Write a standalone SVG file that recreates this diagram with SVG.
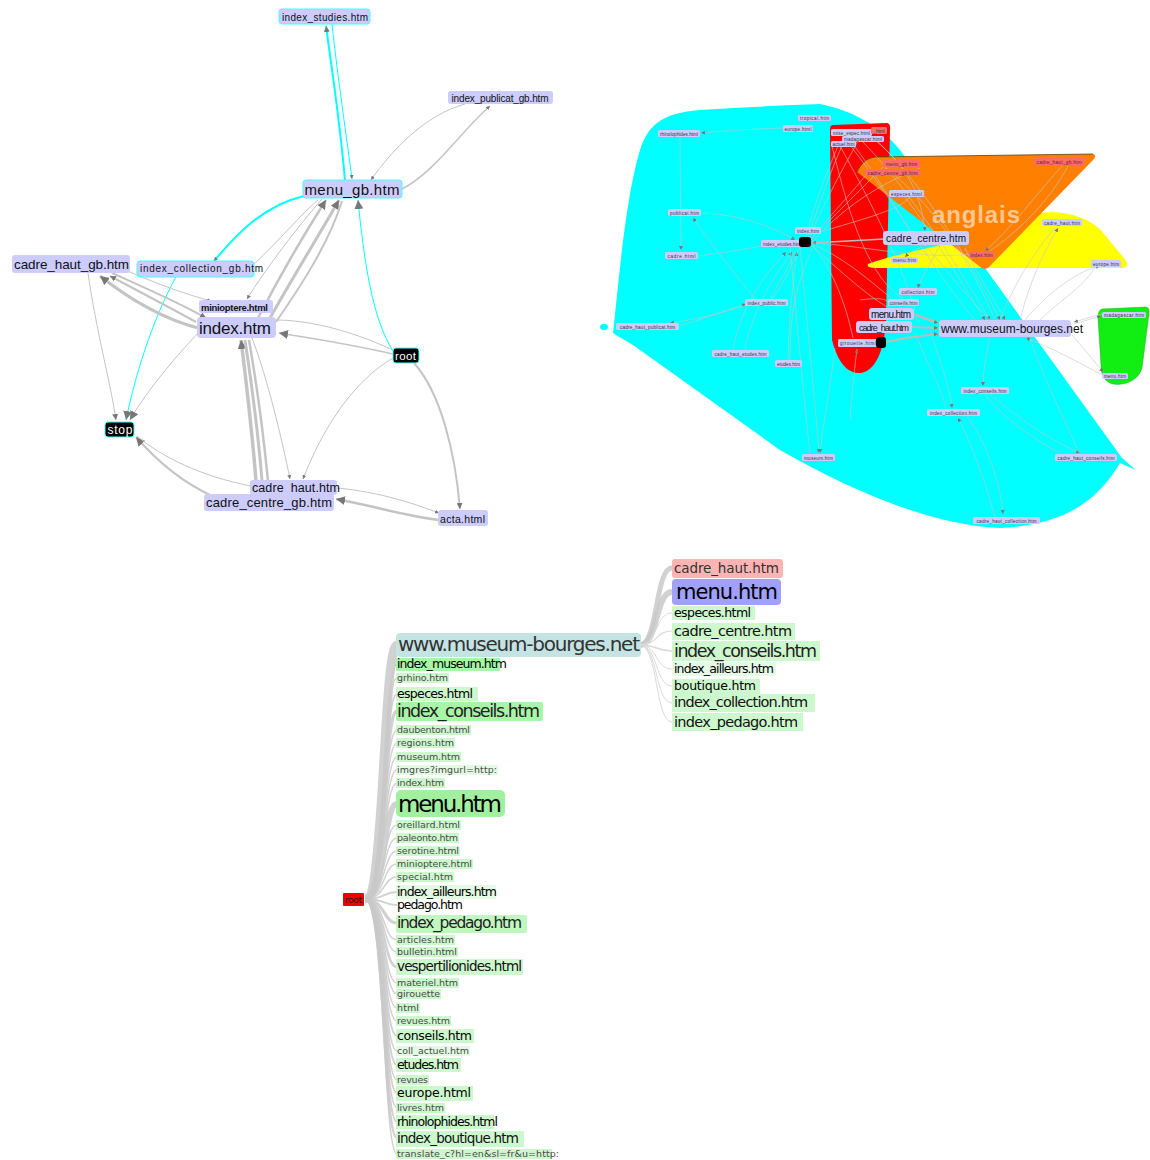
<svg xmlns="http://www.w3.org/2000/svg" width="1150" height="1160" viewBox="0 0 1150 1160">
<defs>
<style>
.n{fill:#ccccff}
.nb{fill:#ccccff;stroke:#40ffff;stroke-width:1}
.bk{fill:#000;stroke:#40ffff;stroke-width:1}
.t{font-family:"Liberation Sans",Arial,sans-serif;fill:#111;text-anchor:middle}
.tw{font-family:"Liberation Sans",Arial,sans-serif;fill:#fff;text-anchor:middle}
.e{fill:none;stroke:#c4c4c4}
.ec{fill:none;stroke:#00ffff}
.s{fill:none;stroke:#c6c6c6;stroke-width:0.6}
.sm{font-family:"Liberation Sans",Arial,sans-serif;font-size:4.6px;fill:#333;text-anchor:middle}
.rn{fill:#ff6a6a}
.tr{fill:none;stroke:#c9c9c9;stroke-opacity:0.85}
.tf{fill:none;stroke:#dadada}
.lt{font-family:"DejaVu Sans",Verdana,sans-serif}
.g1{fill:#a8f5a8}
.g2{fill:#cdf7cd}
.sx{font-size:9.5px;fill:#4a4a4a}
.md{font-size:12.5px;fill:#000}
</style>
<marker id="a" viewBox="0 0 10 10" refX="10" refY="5" markerWidth="9" markerHeight="9" markerUnits="userSpaceOnUse" orient="auto"><path d="M0,0L10,5L0,10z" fill="#777"/></marker>
<marker id="b" viewBox="0 0 10 10" refX="10" refY="5" markerWidth="6" markerHeight="6" markerUnits="userSpaceOnUse" orient="auto"><path d="M0,0L10,5L0,10z" fill="#777"/></marker>
<marker id="c" viewBox="0 0 10 10" refX="10" refY="5" markerWidth="4" markerHeight="4" markerUnits="userSpaceOnUse" orient="auto"><path d="M0,0L10,5L0,10z" fill="#777"/></marker>
</defs>
<rect width="1150" height="1160" fill="#fff"/>

<!-- ============ TOP-LEFT GRAPH ============ -->
<g id="tl-edges">
<path class="ec" stroke-width="2" d="M345,181 C341,130 332,70 326,26" marker-end="url(#b)"/>
<path class="ec" d="M332,24 C338,80 347,140 352,179" marker-end="url(#c)"/>
<path class="e" stroke-width="1.5" d="M402,189 C435,172 462,130 490,106" marker-end="url(#c)"/>
<path class="e" d="M465,104 C425,115 392,150 371,180" marker-end="url(#c)"/>
<path class="ec" stroke-width="2" d="M304,196 C262,206 236,235 214,261" marker-end="url(#c)"/>
<path class="ec" d="M176,277 C152,320 134,380 126,420" marker-end="url(#a)"/>
<path class="ec" d="M393,351 C372,318 364,260 358,200" marker-end="url(#a)"/>
<path class="e" stroke-width="2.5" d="M258,318 C282,272 308,228 326,200" marker-end="url(#a)"/>
<path class="e" stroke-width="3" d="M270,318 C296,272 322,230 339,200" marker-end="url(#a)"/>
<path class="e" stroke-width="2" d="M276,322 C305,280 330,240 342,201"/>
<path class="e" d="M254,264 C280,240 300,215 318,200"/>
<path class="e" d="M322,199 C295,230 265,270 247,299" marker-end="url(#c)"/>
<path class="e" d="M88,273 C96,330 110,380 116,420" marker-end="url(#b)"/>
<path class="e" stroke-width="3" d="M198,328 C160,318 128,298 100,276" marker-end="url(#a)"/>
<path class="e" stroke-width="2" d="M196,322 C165,305 140,292 110,276" marker-end="url(#b)"/>
<path class="e" stroke-width="2" d="M112,273 C150,290 180,303 206,318" marker-end="url(#b)"/>
<path class="e" d="M125,270 C160,285 185,294 211,301" marker-end="url(#c)"/>
<path class="e" d="M200,331 C172,360 142,398 130,420" marker-end="url(#a)"/>
<path class="e" stroke-width="1.5" d="M393,354 C350,344 310,338 279,333" marker-end="url(#a)"/>
<path class="e" d="M393,350 C345,328 305,320 275,320"/>
<path class="e" d="M393,358 C352,382 322,430 303,479" marker-end="url(#c)"/>
<path class="e" stroke-width="2" d="M414,363 C440,392 455,450 460,509" marker-end="url(#b)"/>
<path class="e" d="M337,488 C380,492 415,504 439,513" marker-end="url(#c)"/>
<path class="e" stroke-width="2.5" d="M439,520 C400,515 370,505 336,499" marker-end="url(#a)"/>
<path class="e" stroke-width="2" d="M212,496 C182,482 156,460 136,437" marker-end="url(#a)"/>
<path class="e" d="M251,486 C200,476 162,457 137,436"/>
<path class="e" stroke-width="3.5" d="M256,481 C252,430 246,380 241,340" marker-end="url(#a)"/>
<path class="e" stroke-width="3" d="M262,481 C258,430 251,380 245,340"/>
<path class="e" stroke-width="2.5" d="M268,481 C263,430 256,380 249,340"/>
<path class="e" d="M252,338 C268,380 282,440 290,479" marker-end="url(#c)"/>
</g>

<g id="tl-index_studies"><rect class="nb" x="279" y="9" width="91" height="15" rx="3"/><text class="t" x="325" y="21" font-size="10" textLength="86">index_studies.htm</text></g>
<g id="tl-index_publicat_gb"><rect class="n" x="448" y="91" width="105" height="13" rx="3"/><text class="t" x="500" y="102" font-size="10" textLength="97">index_publicat_gb.htm</text></g>
<g id="tl-menu_gb"><rect class="nb" x="303" y="180" width="99" height="18" rx="3"/><text class="t" x="352" y="195" font-size="15" textLength="95">menu_gb.htm</text></g>
<g id="tl-cadre_haut_gb"><rect class="n" x="12" y="255" width="118" height="18" rx="3"/><text class="t" x="71.5" y="269" font-size="13.5" textLength="115">cadre_haut_gb.htm</text></g>
<g id="tl-index_collection_gb"><rect class="nb" x="137" y="261" width="117" height="16" rx="3"/><text class="t" x="201.5" y="272" font-size="10" textLength="123">index_collection_gb.htm</text></g>
<g id="tl-minioptere"><rect class="n" x="199" y="300" width="74" height="13" rx="3"/><text class="t" x="234.5" y="311" font-size="9.5" font-weight="bold" textLength="67">minioptere.html</text></g>
<g id="tl-index"><rect class="n" x="197" y="317" width="79" height="21" rx="4"/><text class="t" x="235" y="334" font-size="17" textLength="72">index.htm</text></g>
<g id="tl-root"><rect class="bk" x="393" y="348" width="26" height="15" rx="3"/><text class="tw" x="405.5" y="360" font-size="11.5" textLength="21">root</text></g>
<g id="tl-stop"><rect class="bk" x="105" y="422" width="29" height="15" rx="3"/><text class="tw" x="120" y="434" font-size="12" textLength="25">stop</text></g>
<g id="tl-cadre_haut"><rect class="n" x="250" y="480" width="87" height="15" rx="3"/><text class="t" x="296" y="492" font-size="12.5" textLength="88">cadre_haut.htm</text></g>
<g id="tl-cadre_centre_gb"><rect class="n" x="204" y="494" width="130" height="17" rx="3"/><text class="t" x="269" y="507" font-size="13" textLength="126">cadre_centre_gb.htm</text></g>
<g id="tl-acta"><rect class="n" x="438" y="510" width="50" height="16" rx="3"/><text class="t" x="462.5" y="523" font-size="10.5" textLength="45">acta.html</text></g>

<!-- ============ TOP-RIGHT GRAPH ============ -->
<g id="tr-hulls">
<path fill="#00ffff" d="M613,333 C618,290 625,200 640,150 C648,125 662,113 700,110 C750,107 790,105 820,104 C850,110 880,125 900,150 L1122,458 L1136,470 L1120,463 C1095,505 1060,525 1000,528 C930,525 850,490 780,450 L640,350 C630,342 620,338 613,333 Z"/>
<ellipse fill="#00ffff" cx="604" cy="327" rx="4" ry="3"/>
<path fill="#ff0000" d="M833,125 L887,123 Q891,124 890,130 L886,320 C884,360 870,374 858,373 C843,372 836,355 832,340 L830,130 Q830,125 833,125 Z"/>
<path fill="#ffff00" d="M868,264 C890,256 920,250 950,243 L1040,213 C1060,210 1090,215 1105,235 C1115,248 1125,258 1127,263 Q1128,268 1120,268 L876,268 Q866,268 868,264 Z"/>
<path fill="#ff8000" d="M857,172 C860,165 866,158 875,157 L1093,154 Q1097,155 1094,159 L990,266 Q985,272 979,266 Z"/>
<path fill="none" stroke="#5a4020" stroke-width="0.8" d="M857,172 C860,165 866,158 875,157 L1093,154"/>
<text x="932" y="223" font-family="Liberation Sans,Arial,sans-serif" font-size="24" font-weight="bold" fill="#ffc890" textLength="88">anglais</text>
<path fill="#11ee11" stroke="#22aa22" stroke-width="0.5" d="M1102,309 L1146,307 Q1150,308 1149,314 L1142,368 C1139,380 1125,386 1113,384 C1104,382 1101,374 1101,365 L1098,318 Q1098,310 1102,309 Z"/>
</g>

<g id="tr-edges">
<path class="s" d="M783,128 C750,129 725,131 701,133" marker-end="url(#c)"/>
<path class="s" d="M680,137 L681,250" marker-end="url(#c)"/>
<path class="s" d="M698,256 C730,252 750,248 762,246"/>
<path class="s" d="M701,213 C740,214 775,228 795,240" marker-end="url(#c)"/>
<path class="s" d="M755,299 C735,275 712,245 693,218" marker-end="url(#c)"/>
<path class="s" d="M679,326 C705,318 728,310 746,304" marker-end="url(#c)"/>
<path class="s" d="M748,305 C720,313 695,320 670,323" marker-end="url(#c)"/>
<path class="s" d="M745,350 C752,310 775,275 792,252" marker-end="url(#c)"/>
<path class="s" d="M733,350 C742,300 770,270 786,252" marker-end="url(#c)"/>
<path class="s" d="M788,360 C789,320 793,280 797,252" marker-end="url(#c)"/>
<path class="s" d="M770,300 C780,280 790,265 795,252"/>
<path class="s" d="M800,247 C790,270 780,290 772,299"/>
<path class="s" d="M812,248 C800,280 790,300 790,360"/>
<path fill="none" stroke="#bbb" stroke-width="1.3" d="M884,239 L812,243" marker-end="url(#c)"/>
<path class="s" d="M810,240 C830,220 860,190 884,166"/>
<path class="s" d="M810,241 C830,215 850,195 866,175"/>
<path class="s" d="M808,238 C820,200 835,160 846,137"/>
<path class="s" d="M809,239 C825,200 845,165 858,141"/>
<path class="s" d="M806,238 C815,200 828,170 838,146"/>
<path class="s" d="M812,244 C850,260 880,290 920,322"/>
<path class="s" d="M812,246 C840,270 870,300 900,314"/>
<path class="s" d="M812,245 C830,265 845,300 853,338"/>
<path class="s" d="M800,247 C805,300 815,400 819,453" marker-end="url(#c)"/>
<path class="s" d="M790,247 C795,300 800,360 810,453"/>
<path class="s" d="M812,243 C860,245 920,260 970,254"/>
<path class="s" d="M820,232 C860,220 900,210 910,197"/>
<path class="s" d="M812,242 C850,200 890,180 920,168"/>
<path class="s" d="M872,136 C920,180 970,260 1000,320" marker-end="url(#c)"/>
<path class="s" d="M862,141 C910,190 960,270 990,320" marker-end="url(#c)"/>
<path class="s" d="M850,145 C900,210 940,280 975,320"/>
<path class="s" d="M885,168 C930,200 970,260 995,320"/>
<path class="s" d="M905,197 C930,230 960,280 985,320" marker-end="url(#c)"/>
<path class="s" d="M926,245 C950,275 970,300 990,320"/>
<path class="s" d="M965,248 C980,280 995,300 1005,320" marker-end="url(#c)"/>
<path class="s" d="M840,146 C870,200 900,260 915,310"/>
<path class="s" d="M832,146 C850,220 870,280 905,300"/>
<path class="s" d="M870,136 C900,160 920,185 925,231" marker-end="url(#c)"/>
<path class="s" d="M850,140 C880,180 900,215 910,231"/>
<path class="s" d="M1020,320 C1030,280 1045,250 1058,228" marker-end="url(#c)"/>
<path class="s" d="M1000,320 C1015,280 1040,245 1055,228"/>
<path class="s" d="M1025,320 C1050,290 1080,270 1100,266" marker-end="url(#c)"/>
<path class="s" d="M1062,166 C1040,190 1010,230 985,251" marker-end="url(#c)"/>
<path class="s" d="M990,251 C1020,230 1050,200 1068,166"/>
<path class="s" d="M1074,324 L1101,316" marker-end="url(#c)"/>
<path class="s" d="M1102,314 L1074,322" marker-end="url(#c)"/>
<path class="s" d="M1102,375 C1075,360 1045,345 1026,338" marker-end="url(#c)"/>
<path class="s" d="M1072,335 C1085,350 1095,362 1103,372" marker-end="url(#c)"/>
<path class="s" d="M990,337 C985,360 983,375 983,386" marker-end="url(#c)"/>
<path class="s" d="M990,394 C1020,420 1050,440 1080,453" marker-end="url(#c)"/>
<path class="s" d="M1060,453 C1035,440 1005,420 985,395"/>
<path class="s" d="M967,416 C985,440 1000,480 1003,514" marker-end="url(#c)"/>
<path class="s" d="M995,517 C985,480 970,440 958,418" marker-end="url(#c)"/>
<path class="s" d="M930,330 C940,360 950,390 952,408" marker-end="url(#c)"/>
<path class="s" d="M915,333 C930,370 945,395 945,408"/>
<path class="s" d="M835,348 C830,390 822,430 820,453" marker-end="url(#c)"/>
<path class="s" d="M850,420 C852,390 855,365 857,349" marker-end="url(#c)"/>
<path class="s" d="M926,245 C915,250 908,254 905,257" marker-end="url(#c)"/>
<path class="s" d="M940,245 C930,265 920,280 918,288" marker-end="url(#c)"/>
<path class="s" d="M860,300 C875,298 885,298 888,302"/>
<path class="s" d="M1040,320 C1060,300 1080,290 1095,268"/>
<path class="s" d="M1080,455 C1060,410 1040,370 1030,338"/>
<path fill="none" stroke="#bbb" stroke-width="2.5" d="M913,314 C925,318 932,321 938,323" marker-end="url(#c)"/>
<path fill="none" stroke="#bbb" stroke-width="2" d="M912,327 L938,328" marker-end="url(#c)"/>
<path fill="none" stroke="#bbb" stroke-width="2" d="M886,342 C905,338 925,335 938,334" marker-end="url(#c)"/>
</g>

<g id="tr-nodes">
<g id="tr-rhinolophides"><rect class="n" x="658" y="130" width="42" height="7" rx="1.5"/><text class="sm" x="679" y="135.5" textLength="38">rhinolophides.html</text></g>
<g id="tr-europe1"><rect class="n" x="783" y="125" width="30" height="7" rx="1.5"/><text class="sm" x="798" y="130.5" textLength="27">europe.html</text></g>
<g id="tr-tropical"><rect class="n" x="798" y="115" width="33" height="6" rx="1.5"/><text class="sm" x="814.5" y="120" textLength="29">tropical.htm</text></g>
<g id="tr-publicat"><rect class="n" x="668" y="209" width="33" height="7" rx="1.5"/><text class="sm" x="684.5" y="214.5" textLength="29">publicat.htm</text></g>
<g id="tr-cadre"><rect class="n" x="665" y="252" width="33" height="7" rx="1.5"/><text class="sm" x="681.5" y="257.5" textLength="28">cadre.html</text></g>
<g id="tr-index1"><rect class="n" x="795" y="227" width="26" height="7" rx="1.5"/><text class="sm" x="808" y="232.5" textLength="22">index.htm</text></g>
<g id="tr-index_etudes"><rect class="n" x="761" y="240" width="42" height="7" rx="1.5"/><text class="sm" x="782" y="245.5" textLength="38">index_etudes.htm</text><rect x="799" y="237" width="12" height="10" rx="3" fill="#000"/></g>
<g id="tr-mise"><rect class="n" x="831" y="129" width="41" height="7" rx="1.5"/><text class="sm" x="851.5" y="134.5" textLength="37">mise_espec.html</text><rect class="rn" x="871" y="127" width="16" height="7" rx="1.5"/><text class="sm" x="879" y="132.5">_html</text></g>
<g id="tr-madagascar1"><rect class="n" x="842" y="136" width="42" height="6" rx="1.5"/><text class="sm" x="863" y="140.5" textLength="38">madagascar.html</text></g>
<g id="tr-actuel"><rect class="n" x="831" y="141" width="25" height="6" rx="1.5"/><text class="sm" x="843.5" y="145.5" textLength="22">actuel.htm</text></g>
<g id="tr-menu_gb"><rect class="rn" x="883" y="160" width="37" height="7" rx="1.5"/><text class="sm" x="901.5" y="165.5" textLength="31">menu_gb.htm</text></g>
<g id="tr-cadre_centre_gb"><rect class="rn" x="865" y="169" width="55" height="7" rx="1.5"/><text class="sm" x="892.5" y="174.5" textLength="50">cadre_centre_gb.htm</text></g>
<g id="tr-especes"><rect class="n" x="889" y="190" width="35" height="7" rx="1.5"/><text class="sm" x="906.5" y="195.5" textLength="31">especes.html</text></g>
<g id="tr-cadre_centre"><rect class="n" x="883" y="231" width="86" height="14" rx="3"/><text class="t" x="926" y="242" font-size="10" textLength="80">cadre_centre.htm</text></g>
<g id="tr-index2"><rect class="rn" x="969" y="251" width="25" height="7" rx="1.5"/><text class="sm" x="981.5" y="256.5" textLength="22">index.htm</text></g>
<g id="tr-cadre_haut_gb"><rect class="rn" x="1034" y="158" width="50" height="7" rx="1.5"/><text class="sm" x="1059" y="163.5" textLength="45">cadre_haut_gb.htm</text></g>
<g id="tr-cadre_haut1"><rect class="n" x="1042" y="219" width="40" height="7" rx="1.5"/><text class="sm" x="1062" y="224.5" textLength="36">cadre_haut.htm</text></g>
<g id="tr-europe2"><rect class="n" x="1091" y="260" width="30" height="7" rx="1.5"/><text class="sm" x="1106" y="265.5" textLength="26">europe.htm</text></g>
<g id="tr-menu_y"><rect class="n" x="891" y="257" width="27" height="6" rx="1.5"/><text class="sm" x="904.5" y="261.5" textLength="23">menu.htm</text></g>
<g id="tr-collection"><rect class="n" x="899" y="288" width="38" height="7" rx="1.5"/><text class="sm" x="918" y="293.5" textLength="33">collection.htm</text></g>
<g id="tr-conseils"><rect class="n" x="888" y="299" width="31" height="7" rx="1.5"/><text class="sm" x="903.5" y="304.5" textLength="28">conseils.htm</text></g>
<g id="tr-menu"><rect class="n" x="869" y="308" width="45" height="12" rx="3"/><text class="t" x="891" y="318" font-size="10" textLength="40">menu.htm</text></g>
<g id="tr-cadre_haut2"><rect class="n" x="856" y="321" width="56" height="12" rx="3"/><text class="t" x="884" y="330.5" font-size="9" textLength="50">cadre_haut.htm</text></g>
<g id="tr-girouette"><rect class="n" x="838" y="339" width="40" height="8" rx="1.5"/><text class="sm" x="858" y="345" font-size="5" textLength="36">girouette.html</text><rect x="876" y="337" width="10" height="11" rx="3" fill="#000"/></g>
<g id="tr-www"><rect class="n" x="939" y="320" width="132" height="17" rx="3"/><text class="t" x="1012" y="333" font-size="12" textLength="142">www.museum-bourges.net</text></g>
<g id="tr-index_public"><rect class="n" x="745" y="299" width="43" height="7" rx="1.5"/><text class="sm" x="766.5" y="304.5" textLength="38">index_public.htm</text></g>
<g id="tr-cadre_haut_publicat"><rect class="n" x="616" y="323" width="63" height="7" rx="1.5"/><text class="sm" x="647.5" y="328.5" textLength="55">cadre_haut_publicat.htm</text></g>
<g id="tr-cadre_haut_etudes"><rect class="n" x="712" y="350" width="57" height="7" rx="1.5"/><text class="sm" x="740.5" y="355.5" textLength="52">cadre_haut_etudes.htm</text></g>
<g id="tr-etudes"><rect class="n" x="775" y="360" width="27" height="7" rx="1.5"/><text class="sm" x="788.5" y="365.5" textLength="23">etudes.htm</text></g>
<g id="tr-madagascar2"><rect class="n" x="1102" y="312" width="44" height="6" rx="1.5"/><text class="sm" x="1124" y="316.5" textLength="40">madagascar.htm</text></g>
<g id="tr-menu_g"><rect class="n" x="1102" y="373" width="26" height="6" rx="1.5"/><text class="sm" x="1115" y="377.5" textLength="22">menu.htm</text></g>
<g id="tr-index_conseils"><rect class="n" x="961" y="387" width="48" height="7" rx="1.5"/><text class="sm" x="985" y="392.5" textLength="43">index_conseils.htm</text></g>
<g id="tr-index_collection"><rect class="n" x="927" y="409" width="53" height="7" rx="1.5"/><text class="sm" x="953.5" y="414.5" textLength="47">index_collection.htm</text></g>
<g id="tr-museum"><rect class="n" x="802" y="454" width="33" height="7" rx="1.5"/><text class="sm" x="818.5" y="459.5" textLength="29">museum.htm</text></g>
<g id="tr-cadre_haut_conseils"><rect class="n" x="1055" y="454" width="62" height="7" rx="1.5"/><text class="sm" x="1086" y="459.5" textLength="57">cadre_haut_conseils.htm</text></g>
<g id="tr-cadre_haut_collection"><rect class="n" x="973" y="517" width="67" height="7" rx="1.5"/><text class="sm" x="1006.5" y="522.5" textLength="60">cadre_haut_collection.htm</text></g>
</g>

<!-- ============ BOTTOM TREE ============ -->
<g id="tree-edges">
<path class="tr" stroke-width="9" d="M365,899 C385,899 383,645 397,645"/>
<path class="tr" stroke-width="2" d="M365,899 C385,899 383,664 397,664"/>
<path class="tr" stroke-width="1.5" d="M365,899 C385,899 383,678 397,678"/>
<path class="tr" stroke-width="2" d="M365,899 C385,899 383,694 397,694"/>
<path class="tr" stroke-width="3.5" d="M365,899 C385,899 383,711 397,711"/>
<path class="tr" stroke-width="1.5" d="M365,899 C385,899 383,730 397,730"/>
<path class="tr" stroke-width="1.5" d="M365,899 C385,899 383,743 397,743"/>
<path class="tr" stroke-width="1.5" d="M365,899 C385,899 383,757 397,757"/>
<path class="tr" stroke-width="1.5" d="M365,899 C385,899 383,770 397,770"/>
<path class="tr" stroke-width="1.5" d="M365,899 C385,899 383,783 397,783"/>
<path class="tr" stroke-width="6" d="M365,899 C385,899 383,804 397,804"/>
<path class="tr" stroke-width="1.5" d="M365,899 C385,899 383,825 397,825"/>
<path class="tr" stroke-width="1.5" d="M365,899 C385,899 383,838 397,838"/>
<path class="tr" stroke-width="1.5" d="M365,899 C385,899 383,851 397,851"/>
<path class="tr" stroke-width="1.5" d="M365,899 C385,899 383,864 397,864"/>
<path class="tr" stroke-width="1.5" d="M365,899 C385,899 383,877 397,877"/>
<path class="tr" stroke-width="2" d="M365,899 C385,899 383,892 397,892"/>
<path class="tr" stroke-width="2" d="M365,899 C385,899 383,905 397,905"/>
<path class="tr" stroke-width="3" d="M365,899 C385,899 383,923 397,923"/>
<path class="tr" stroke-width="1.5" d="M365,899 C385,899 383,940 397,940"/>
<path class="tr" stroke-width="1.5" d="M365,899 C385,899 383,952 397,952"/>
<path class="tr" stroke-width="2.5" d="M365,899 C385,899 383,967 397,967"/>
<path class="tr" stroke-width="1.5" d="M365,899 C385,899 383,983 397,983"/>
<path class="tr" stroke-width="1.5" d="M365,899 C385,899 383,994 397,994"/>
<path class="tr" stroke-width="1.5" d="M365,899 C385,899 383,1008 397,1008"/>
<path class="tr" stroke-width="1.5" d="M365,899 C385,899 383,1021 397,1021"/>
<path class="tr" stroke-width="2" d="M365,899 C385,899 383,1036 397,1036"/>
<path class="tr" stroke-width="1.5" d="M365,899 C385,899 383,1051 397,1051"/>
<path class="tr" stroke-width="2" d="M365,899 C385,899 383,1065 397,1065"/>
<path class="tr" stroke-width="1.5" d="M365,899 C385,899 383,1080 397,1080"/>
<path class="tr" stroke-width="2" d="M365,899 C385,899 383,1093 397,1093"/>
<path class="tr" stroke-width="1.5" d="M365,899 C385,899 383,1108 397,1108"/>
<path class="tr" stroke-width="2" d="M365,899 C385,899 383,1122 397,1122"/>
<path class="tr" stroke-width="2.5" d="M365,899 C385,899 383,1138 397,1138"/>
<path class="tr" stroke-width="1.5" d="M365,899 C385,899 383,1154 397,1154"/>
<path class="tr" stroke-width="5" d="M640,645 C658,645 655,568 672,568"/>
<path class="tr" stroke-width="6" d="M640,645 C658,645 655,592 672,592"/>
<path class="tf" stroke-width="1" d="M640,645 C658,645 655,613 672,613"/>
<path class="tf" stroke-width="1.2" d="M640,645 C658,645 655,631 672,631"/>
<path class="tf" stroke-width="1.5" d="M640,645 C658,645 655,651 672,651"/>
<path class="tf" stroke-width="1" d="M640,645 C658,645 655,669 672,669"/>
<path class="tf" stroke-width="1" d="M640,645 C658,645 655,686 672,686"/>
<path class="tf" stroke-width="1" d="M640,645 C658,645 655,703 672,703"/>
<path class="tf" stroke-width="1" d="M640,645 C658,645 655,722 672,722"/>
</g>

<g id="tree-root"><rect x="343" y="893" width="21" height="13" fill="#ee0000" rx="1"/><text class="lt" x="345" y="903" font-size="9" fill="#330000" textLength="17">root</text></g>

<g id="tree-left" class="lt">
<g id="l-www"><rect x="396" y="633" width="245" height="24" rx="4" fill="#c4e4e4"/><text x="398" y="651" font-size="20" fill="#333" textLength="242">www.museum-bourges.net</text></g>
<g id="l-index_museum"><rect class="g1" x="396" y="658" width="104" height="13"/><text class="md" x="397" y="668" textLength="110">index_museum.htm</text></g>
<g id="l-grhino"><rect class="g2" x="396" y="673" width="53" height="10"/><text class="sx" x="397" y="681" textLength="51">grhino.htm</text></g>
<g id="l-especes"><rect class="g2" x="396" y="687" width="82" height="14"/><text class="md" x="397" y="698" textLength="76">especes.html</text></g>
<g id="l-index_conseils"><rect class="g1" x="396" y="702" width="147" height="19" rx="2"/><text x="397" y="717" font-size="17.5" fill="#222" textLength="143">index_conseils.htm</text></g>
<g id="l-daubenton"><rect class="g2" x="396" y="725" width="75" height="10"/><text class="sx" x="397" y="733" textLength="73">daubenton.html</text></g>
<g id="l-regions"><rect class="g2" x="396" y="738" width="59" height="10"/><text class="sx" x="397" y="746" textLength="57">regions.htm</text></g>
<g id="l-museum"><rect class="g2" x="396" y="752" width="65" height="10"/><text class="sx" x="397" y="760" textLength="63">museum.htm</text></g>
<g id="l-imgres"><rect class="g2" x="396" y="765" width="102" height="10" opacity="0.6"/><text class="sx" x="397" y="773" textLength="100">imgres?imgurl=http:</text></g>
<g id="l-index"><rect class="g2" x="396" y="778" width="49" height="10"/><text class="sx" x="397" y="786" textLength="47">index.htm</text></g>
<g id="l-menu"><rect x="396" y="790" width="109" height="27" rx="5" fill="#a0f0a0"/><text x="398" y="812" font-size="23" fill="#000" textLength="104">menu.htm</text></g>
<g id="l-oreillard"><rect class="g2" x="396" y="820" width="65" height="10"/><text class="sx" x="397" y="828" textLength="63">oreillard.html</text></g>
<g id="l-paleonto"><rect class="g2" x="396" y="833" width="63" height="10"/><text class="sx" x="397" y="841" textLength="61">paleonto.htm</text></g>
<g id="l-serotine"><rect class="g2" x="396" y="846" width="64" height="10"/><text class="sx" x="397" y="854" textLength="62">serotine.html</text></g>
<g id="l-minioptere"><rect class="g2" x="396" y="859" width="77" height="10"/><text class="sx" x="397" y="867" textLength="75">minioptere.html</text></g>
<g id="l-special"><rect class="g2" x="396" y="872" width="58" height="10"/><text class="sx" x="397" y="880" textLength="56">special.htm</text></g>
<g id="l-index_ailleurs"><rect class="g2" x="396" y="885" width="100" height="14" opacity="0.6"/><text class="md" x="397" y="896" textLength="100">index_ailleurs.htm</text></g>
<g id="l-pedago"><text class="md" x="397" y="909" textLength="66">pedago.htm</text></g>
<g id="l-index_pedago"><rect x="396" y="915" width="131" height="18" rx="2" fill="#bff7bf"/><text x="397" y="928" font-size="15.5" fill="#222" textLength="125">index_pedago.htm</text></g>
<g id="l-articles"><rect class="g2" x="396" y="935" width="59" height="10"/><text class="sx" x="397" y="943" textLength="57">articles.htm</text></g>
<g id="l-bulletin"><rect class="g2" x="396" y="947" width="62" height="10"/><text class="sx" x="397" y="955" textLength="60">bulletin.html</text></g>
<g id="l-vespertilionides"><rect class="g2" x="396" y="959" width="127" height="16"/><text x="397" y="971" font-size="13.5" fill="#111" textLength="125">vespertilionides.html</text></g>
<g id="l-materiel"><rect class="g2" x="396" y="978" width="63" height="10"/><text class="sx" x="397" y="986" textLength="61">materiel.htm</text></g>
<g id="l-girouette"><rect class="g2" x="396" y="989" width="45" height="10"/><text class="sx" x="397" y="997" textLength="43">girouette</text></g>
<g id="l-html"><rect class="g2" x="396" y="1003" width="24" height="10"/><text class="sx" x="397" y="1011" textLength="22">html</text></g>
<g id="l-revues_htm"><rect class="g2" x="396" y="1016" width="55" height="10"/><text class="sx" x="397" y="1024" textLength="53">revues.htm</text></g>
<g id="l-conseils"><rect class="g2" x="396" y="1029" width="78" height="14"/><text class="md" x="397" y="1040" textLength="75">conseils.htm</text></g>
<g id="l-coll_actuel"><rect class="g2" x="396" y="1046" width="74" height="10" opacity="0.6"/><text class="sx" x="397" y="1054" textLength="72">coll_actuel.htm</text></g>
<g id="l-etudes"><rect class="g2" x="396" y="1058" width="65" height="14"/><text class="md" x="397" y="1069" textLength="62">etudes.htm</text></g>
<g id="l-revues"><rect class="g2" x="396" y="1075" width="33" height="10"/><text class="sx" x="397" y="1083" textLength="31">revues</text></g>
<g id="l-europe"><rect class="g2" x="396" y="1086" width="77" height="15"/><text class="md" x="397" y="1097" textLength="74">europe.html</text></g>
<g id="l-livres"><rect class="g2" x="396" y="1103" width="49" height="10"/><text class="sx" x="397" y="1111" textLength="47">livres.htm</text></g>
<g id="l-rhinolophides"><rect class="g2" x="396" y="1115" width="98" height="14"/><text class="md" x="397" y="1126" textLength="101">rhinolophides.html</text></g>
<g id="l-index_boutique"><rect class="g2" x="396" y="1131" width="128" height="16"/><text x="397" y="1143" font-size="13.5" fill="#111" textLength="122">index_boutique.htm</text></g>
<g id="l-translate"><rect class="g2" x="396" y="1149" width="156" height="10"/><text class="sx" x="397" y="1157" textLength="162">translate_c?hl=en&amp;sl=fr&amp;u=http:</text></g>
</g>

<g id="tree-right" class="lt">
<g id="r-cadre_haut"><rect x="672" y="559" width="111" height="19" rx="3" fill="#ffb4b4"/><text x="674" y="573" font-size="13.5" fill="#333" textLength="105">cadre_haut.htm</text></g>
<g id="r-menu"><rect x="672" y="579" width="109" height="26" rx="4" fill="#a0a0ff"/><text x="676" y="599" font-size="21" fill="#000" textLength="102">menu.htm</text></g>
<g id="r-especes"><rect class="g2" x="672" y="606" width="83" height="14"/><text class="md" x="674" y="617" textLength="77">especes.html</text></g>
<g id="r-cadre_centre"><rect class="g2" x="672" y="623" width="123" height="17"/><text x="674" y="636" font-size="14.5" fill="#111" textLength="118">cadre_centre.htm</text></g>
<g id="r-index_conseils"><rect class="g2" x="672" y="641" width="148" height="20"/><text x="674" y="657" font-size="17.5" fill="#222" textLength="143">index_conseils.htm</text></g>
<g id="r-index_ailleurs"><rect class="g2" x="672" y="662" width="104" height="14" opacity="0.5"/><text class="md" x="674" y="673" textLength="100">index_ailleurs.htm</text></g>
<g id="r-boutique"><rect class="g2" x="672" y="679" width="88" height="15"/><text class="md" x="674" y="690" textLength="82">boutique.htm</text></g>
<g id="r-index_collection"><rect class="g2" x="672" y="694" width="143" height="18"/><text x="674" y="707" font-size="14.5" fill="#111" textLength="134">index_collection.htm</text></g>
<g id="r-index_pedago"><rect class="g2" x="672" y="713" width="131" height="18"/><text x="674" y="727" font-size="14.5" fill="#111" textLength="124">index_pedago.htm</text></g>
</g>
</svg>
